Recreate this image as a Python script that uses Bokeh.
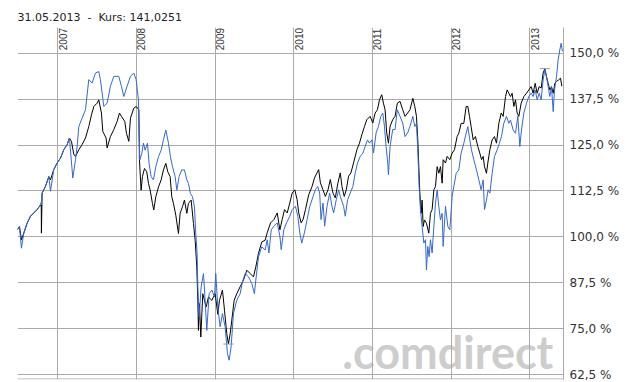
import math
from bokeh.plotting import figure
from bokeh.models import FixedTicker, Grid, Label, Span, ColumnDataSource
from bokeh.embed import file_html
from bokeh.resources import INLINE

# ---------------- data (decimal years, percent) ----------------
title_text = "31.05.2013 \u00a0-\u00a0 Kurs: 141,0251"

year_ticks = [2007, 2008, 2009, 2010, 2011, 2012, 2013]
year_labels = ["2007", "2008", "2009", "2010", "2011", "2012", "2013"]

y_ticks = [62.5, 75.0, 87.5, 100.0, 112.5, 125.0, 137.5, 150.0]
y_tick_labels = ["62,5 %", "75,0 %", "87,5 %", "100,0 %", "112,5 %", "125,0 %", "137,5 %", "150,0 %"]

black_t = [
    2006.483, 2006.513, 2006.538, 2006.568, 2006.610, 2006.653, 2006.695, 2006.737, 2006.767, 2006.790,
    2006.792, 2006.801, 2006.843, 2006.886, 2006.907, 2006.949, 2006.992, 2007.034, 2007.076, 2007.119,
    2007.148, 2007.174, 2007.203, 2007.225, 2007.267, 2007.309, 2007.352, 2007.394, 2007.428, 2007.458,
    2007.500, 2007.521, 2007.555, 2007.572, 2007.614, 2007.627, 2007.669, 2007.712, 2007.754, 2007.784,
    2007.809, 2007.852, 2007.873, 2007.903, 2007.924, 2007.966, 2007.996, 2008.030, 2008.038, 2008.059,
    2008.076, 2008.102, 2008.131, 2008.153, 2008.174, 2008.203, 2008.220, 2008.246, 2008.280, 2008.314,
    2008.343, 2008.373, 2008.398, 2008.428, 2008.449, 2008.470, 2008.500, 2008.534, 2008.555, 2008.585,
    2008.610, 2008.640, 2008.661, 2008.695, 2008.725, 2008.746, 2008.767, 2008.780, 2008.788, 2008.801,
    2008.818, 2008.843, 2008.864, 2008.886, 2008.915, 2008.958, 2009.000, 2009.034, 2009.055, 2009.093,
    2009.119, 2009.148, 2009.169, 2009.191, 2009.212, 2009.242, 2009.275, 2009.318, 2009.360, 2009.403,
    2009.445, 2009.487, 2009.517, 2009.551, 2009.593, 2009.636, 2009.662, 2009.705, 2009.747, 2009.789,
    2009.823, 2009.852, 2009.882, 2009.916, 2009.949, 2009.979, 2010.013, 2010.042, 2010.063, 2010.093,
    2010.118, 2010.148, 2010.190, 2010.232, 2010.262, 2010.295, 2010.316, 2010.338, 2010.371, 2010.401,
    2010.435, 2010.464, 2010.498, 2010.527, 2010.561, 2010.591, 2010.612, 2010.641, 2010.667, 2010.696,
    2010.726, 2010.759, 2010.802, 2010.835, 2010.865, 2010.899, 2010.928, 2010.970, 2011.004, 2011.034,
    2011.063, 2011.089, 2011.118, 2011.139, 2011.160, 2011.181, 2011.203, 2011.224, 2011.257, 2011.287,
    2011.316, 2011.350, 2011.384, 2011.414, 2011.447, 2011.477, 2011.513, 2011.538, 2011.559, 2011.576,
    2011.589, 2011.602, 2011.619, 2011.631, 2011.644, 2011.661, 2011.686, 2011.716, 2011.737, 2011.758,
    2011.780, 2011.801, 2011.822, 2011.843, 2011.864, 2011.886, 2011.898, 2011.928, 2011.949, 2011.983,
    2012.013, 2012.042, 2012.076, 2012.097, 2012.127, 2012.161, 2012.191, 2012.212, 2012.233, 2012.254,
    2012.280, 2012.309, 2012.339, 2012.364, 2012.386, 2012.407, 2012.424, 2012.449, 2012.466, 2012.492,
    2012.521, 2012.551, 2012.576, 2012.606, 2012.636, 2012.661, 2012.691, 2012.712, 2012.733, 2012.754,
    2012.775, 2012.797, 2012.818, 2012.839, 2012.860, 2012.890, 2012.924, 2012.958, 2012.987, 2013.017,
    2013.042, 2013.068, 2013.093, 2013.119, 2013.144, 2013.169, 2013.191, 2013.212, 2013.233, 2013.254,
    2013.275, 2013.297, 2013.318, 2013.339, 2013.364, 2013.390, 2013.407,
]
black_v = [
    101.9, 102.8, 99.2, 101.0, 103.7, 105.6, 106.5, 107.4, 108.3, 108.6,
    101.0, 111.9, 113.7, 116.4, 115.5, 118.3, 120.1, 121.4, 123.7, 125.1,
    126.9, 126.0, 122.5, 121.9, 123.7, 125.1, 126.9, 130.0, 133.2, 135.5,
    136.4, 137.3, 133.7, 128.7, 126.9, 124.2, 127.3, 129.2, 131.4, 133.7,
    132.8, 131.4, 128.2, 126.0, 132.3, 135.0, 135.5, 134.6, 120.9, 112.7,
    116.4, 118.6, 117.7, 114.5, 112.7, 109.1, 107.3, 110.9, 113.6, 115.5,
    118.2, 120.0, 117.7, 116.4, 110.9, 109.1, 105.9, 100.9, 106.4, 108.2,
    110.0, 106.4, 109.1, 110.0, 103.6, 99.1, 91.8, 82.7, 74.5, 81.8,
    72.7, 84.5, 82.7, 80.9, 83.6, 82.7, 84.5, 78.9, 82.7, 85.5,
    80.0, 73.6, 70.8, 73.6, 77.3, 82.7, 84.5, 86.4, 88.2, 90.9,
    90.0, 89.1, 91.8, 95.5, 98.6, 99.1, 101.1, 103.8, 104.7, 106.5,
    101.9, 104.7, 107.4, 106.5, 109.2, 111.9, 112.8, 110.1, 106.5, 103.8,
    104.7, 107.4, 111.5, 113.7, 116.0, 117.4, 118.3, 114.7, 112.8, 111.0,
    112.8, 115.6, 111.9, 110.6, 114.7, 117.4, 113.7, 111.0, 112.8, 116.5,
    117.4, 120.1, 123.7, 125.5, 127.8, 130.1, 131.9, 132.8, 131.0, 133.7,
    134.6, 137.3, 138.7, 136.4, 134.6, 128.3, 125.5, 130.1, 131.9, 132.8,
    136.4, 136.9, 134.6, 132.8, 133.7, 134.6, 137.7, 135.5, 132.8, 126.4,
    119.1, 111.9, 106.4, 110.0, 102.8, 104.6, 103.7, 101.0, 106.4, 107.4,
    112.8, 113.7, 119.1, 117.3, 119.1, 114.6, 121.0, 120.1, 121.9, 121.0,
    122.8, 123.7, 127.3, 128.2, 130.9, 130.9, 135.5, 135.5, 132.8, 130.0,
    126.4, 127.3, 124.6, 122.8, 121.0, 121.9, 119.1, 117.3, 120.1, 123.7,
    126.4, 127.3, 125.5, 130.9, 133.7, 132.8, 138.2, 140.0, 139.1, 138.2,
    139.1, 135.5, 137.3, 133.7, 132.8, 136.4, 138.2, 139.1, 140.0, 140.9,
    139.1, 141.8, 139.1, 140.9, 140.5, 144.6, 145.8, 143.6, 141.8, 140.0,
    140.9, 139.1, 141.8, 142.3, 142.7, 143.2, 141.0,
]

blue_t = [
    2006.483, 2006.513, 2006.538, 2006.568, 2006.610, 2006.653, 2006.695, 2006.737, 2006.767, 2006.792,
    2006.801, 2006.843, 2006.886, 2006.907, 2006.949, 2006.992, 2007.034, 2007.076, 2007.119, 2007.148,
    2007.191, 2007.225, 2007.246, 2007.267, 2007.309, 2007.352, 2007.394, 2007.436, 2007.479, 2007.521,
    2007.542, 2007.585, 2007.627, 2007.669, 2007.712, 2007.775, 2007.809, 2007.839, 2007.881, 2007.924,
    2007.966, 2007.996, 2008.025, 2008.042, 2008.068, 2008.089, 2008.110, 2008.140, 2008.161, 2008.186,
    2008.216, 2008.246, 2008.280, 2008.314, 2008.343, 2008.373, 2008.407, 2008.432, 2008.458, 2008.492,
    2008.513, 2008.542, 2008.576, 2008.610, 2008.640, 2008.661, 2008.686, 2008.712, 2008.737, 2008.754,
    2008.771, 2008.780, 2008.797, 2008.822, 2008.852, 2008.873, 2008.894, 2008.924, 2008.958, 2008.992,
    2009.008, 2009.034, 2009.064, 2009.093, 2009.127, 2009.157, 2009.178, 2009.203, 2009.233, 2009.275,
    2009.318, 2009.347, 2009.381, 2009.424, 2009.466, 2009.500, 2009.517, 2009.551, 2009.593, 2009.636,
    2009.662, 2009.684, 2009.713, 2009.747, 2009.789, 2009.823, 2009.840, 2009.873, 2009.907, 2009.949,
    2009.979, 2010.021, 2010.051, 2010.076, 2010.101, 2010.135, 2010.169, 2010.203, 2010.245, 2010.274,
    2010.304, 2010.329, 2010.346, 2010.371, 2010.392, 2010.422, 2010.456, 2010.485, 2010.506, 2010.540,
    2010.570, 2010.591, 2010.633, 2010.654, 2010.684, 2010.717, 2010.751, 2010.781, 2010.810, 2010.844,
    2010.878, 2010.907, 2010.937, 2010.962, 2010.992, 2011.013, 2011.046, 2011.076, 2011.105, 2011.131,
    2011.152, 2011.173, 2011.194, 2011.203, 2011.224, 2011.257, 2011.287, 2011.316, 2011.350, 2011.384,
    2011.414, 2011.447, 2011.477, 2011.513, 2011.538, 2011.559, 2011.576, 2011.593, 2011.610, 2011.631,
    2011.653, 2011.674, 2011.686, 2011.703, 2011.720, 2011.737, 2011.758, 2011.780, 2011.801, 2011.822,
    2011.843, 2011.864, 2011.886, 2011.898, 2011.928, 2011.958, 2011.983, 2012.013, 2012.034, 2012.064,
    2012.097, 2012.127, 2012.161, 2012.191, 2012.212, 2012.237, 2012.258, 2012.288, 2012.322, 2012.352,
    2012.381, 2012.407, 2012.424, 2012.449, 2012.470, 2012.492, 2012.521, 2012.551, 2012.585, 2012.614,
    2012.640, 2012.669, 2012.703, 2012.733, 2012.754, 2012.788, 2012.818, 2012.847, 2012.873, 2012.894,
    2012.924, 2012.958, 2012.987, 2013.017, 2013.042, 2013.068, 2013.093, 2013.119, 2013.144, 2013.169,
    2013.191, 2013.212, 2013.233, 2013.254, 2013.275, 2013.297, 2013.314, 2013.339, 2013.360, 2013.381,
    2013.398, 2013.415,
]
blue_v = [
    101.9, 102.8, 96.9, 101.0, 103.7, 105.6, 106.5, 107.4, 108.3, 109.5,
    111.9, 113.7, 116.4, 112.4, 118.3, 120.1, 121.4, 123.7, 125.1, 126.9,
    116.0, 121.0, 124.6, 130.0, 132.3, 134.6, 142.8, 141.9, 144.6, 145.0,
    142.8, 135.5, 136.4, 141.0, 143.7, 143.7, 141.0, 138.2, 141.0, 143.7,
    144.6, 142.8, 137.3, 120.9, 122.7, 125.5, 123.6, 125.5, 120.0, 116.4,
    115.5, 119.1, 121.8, 123.6, 126.4, 129.1, 125.5, 121.8, 119.1, 116.4,
    112.7, 116.4, 118.2, 118.2, 115.5, 114.5, 111.8, 110.9, 108.2, 100.9,
    95.5, 86.4, 78.2, 86.4, 90.0, 82.7, 74.5, 84.5, 85.5, 83.6,
    90.0, 80.9, 75.5, 79.1, 75.5, 68.2, 66.4, 70.0, 79.1, 82.7,
    84.5, 87.7, 90.0, 89.1, 87.3, 84.5, 88.2, 94.5, 97.3, 96.4,
    99.2, 95.6, 101.9, 102.9, 103.8, 100.2, 96.5, 101.9, 103.8, 105.6,
    107.4, 108.3, 105.6, 101.1, 98.3, 101.1, 104.7, 108.3, 111.0, 112.8,
    113.7, 111.9, 104.7, 109.2, 102.9, 108.3, 111.9, 108.3, 106.5, 110.1,
    112.8, 111.0, 108.3, 105.6, 110.1, 111.9, 113.7, 117.4, 120.1, 121.9,
    122.8, 124.6, 126.4, 125.5, 126.4, 122.8, 128.3, 130.1, 132.8, 133.7,
    130.1, 124.6, 120.1, 116.9, 124.6, 129.2, 129.2, 134.6, 132.8, 131.0,
    127.3, 128.3, 130.1, 132.8, 130.0, 130.9, 123.7, 113.7, 107.4, 102.8,
    98.3, 99.2, 91.0, 97.4, 94.6, 99.2, 95.6, 102.8, 109.2, 112.8,
    108.3, 104.6, 106.4, 97.4, 108.3, 102.8, 101.9, 111.0, 113.7, 117.3,
    118.2, 122.8, 125.5, 128.2, 130.0, 126.4, 123.7, 121.0, 118.2, 115.5,
    112.8, 115.5, 107.4, 110.0, 112.8, 111.9, 117.3, 121.9, 123.7, 125.5,
    127.3, 130.9, 132.8, 130.9, 131.8, 129.1, 128.2, 132.8, 124.6, 129.1,
    133.7, 136.4, 138.2, 139.1, 138.2, 140.0, 137.3, 139.1, 137.3, 142.7,
    145.5, 143.6, 140.9, 138.2, 140.9, 134.1, 140.0, 143.6, 148.2, 150.9,
    152.7, 150.5,
]

# ---------------- figure ----------------
x_lo, x_hi = 2006.488, 2013.428
y_lo, y_hi = 61.14, 157.0
W, H = 633, 382
ml, mt, mr, mb = 17, 27, 70, 3

grid_color = "#aaaaaa"

p = figure(
    width=W, height=H,
    x_range=(x_lo, x_hi), y_range=(y_lo, y_hi),
    x_axis_location=None, y_axis_location="right",
    output_backend="svg", toolbar_location=None,
    min_border_left=ml, min_border_top=mt, min_border_right=mr, min_border_bottom=mb,
    background_fill_color="white", border_fill_color="white",
    outline_line_color=None,
)

p.title.text = title_text
p.title.text_font = "DejaVu Sans"
p.title.text_font_size = "11px"
p.title.text_font_style = "normal"
p.title.text_color = "#222222"
p.title.align = "left"
p.title.standoff = 8

# remove default grids, add own
p.grid.visible = False
p.add_layout(Grid(dimension=1, ticker=FixedTicker(ticks=y_ticks), grid_line_color=grid_color))
p.add_layout(Grid(dimension=0, ticker=FixedTicker(ticks=year_ticks), grid_line_color=grid_color))

ax = p.yaxis[0]
ax.ticker = FixedTicker(ticks=y_ticks)
ax.major_label_overrides = {t: s for t, s in zip(y_ticks, y_tick_labels)}
ax.major_tick_in = 0
ax.major_tick_out = 0
ax.minor_tick_in = 0
ax.minor_tick_out = 0
ax.axis_line_color = grid_color
ax.major_label_text_font = "DejaVu Sans"
ax.major_label_text_font_size = "12px"
ax.major_label_text_color = "#333333"
ax.major_label_standoff = 6

# bottom border
frame_h = H - mt - mb
px_per_unit = frame_h / (y_hi - y_lo)
p.add_layout(Span(location=y_lo + 0.5 / px_per_unit, dimension="width",
                  line_color=grid_color, line_width=1))

# watermark
p.add_layout(Label(x=2013.299, y=y_lo + 1.0 / px_per_unit, text=".comdirect", text_align="right",
                   text_baseline="bottom", text_font="Lato", text_font_size="45px",
                   text_font_style="bold", text_color="#cdcdcd", level="image"))

# year labels at top
ysrc = ColumnDataSource(dict(x=year_ticks, y=[y_ticks[-1]] * len(year_ticks), t=year_labels))
p.text(x="x", y="y", text="t", source=ysrc, angle=math.pi / 2,
       text_align="left", text_baseline="top", text_font_size="10px",
       text_color="#333333", x_offset=1, y_offset=-3)

# series
p.line(black_t, black_v, line_color="#000000", line_width=1)
p.line(blue_t, blue_v, line_color="#3468d0", line_width=1)

# high / low markers of black series
i_max = max(range(len(black_v)), key=lambda i: black_v[i])
i_min = min(range(len(black_v)), key=lambda i: black_v[i])
hw = 0.065
p.segment(x0=[black_t[i_max] - hw, black_t[i_min] - hw], y0=[black_v[i_max], black_v[i_min]],
          x1=[black_t[i_max] + hw, black_t[i_min] + hw], y1=[black_v[i_max], black_v[i_min]],
          line_color="#999999", line_width=1)

open("out.html", "w").write(file_html(p, INLINE))
